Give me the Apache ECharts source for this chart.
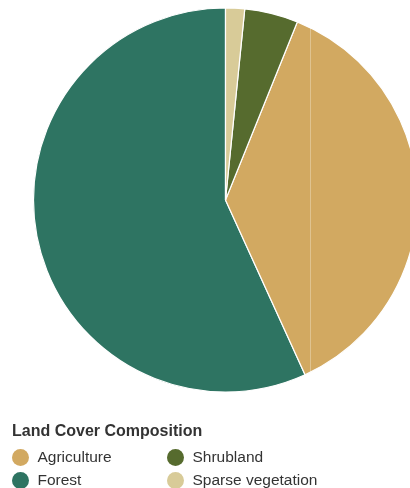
<!DOCTYPE html>
<html>
<head>
<meta charset="utf-8">
<style>
html,body{margin:0;padding:0;background:#fff;}
#chart{width:410px;height:488px;}
</style>
<script src="https://cdn.jsdelivr.net/npm/echarts@6/dist/echarts.min.js"></script>
</head>
<body>
<div id="chart"></div>
<script>
// Data (percent share of land cover)
const categories = ['Agriculture', 'Forest', 'Shrubland', 'Sparse vegetation'];
const values = [37.1, 56.8, 4.5, 1.6];
const colors = ['#D2A961', '#2E7462', '#566B2E', '#D8CB98'];
// drawing order (counter-clockwise from 12 o'clock)
const drawOrder = ['Forest', 'Agriculture', 'Shrubland', 'Sparse vegetation'];

const colorOf = {};
categories.forEach((c, i) => colorOf[c] = colors[i]);
const pieData = drawOrder.map(name => ({
  name: name,
  value: values[categories.indexOf(name)],
  itemStyle: { color: colorOf[name] }
}));

const chart = echarts.init(document.getElementById('chart'), null, { renderer: 'canvas' });
const font = 'Liberation Sans, Arial, sans-serif';
function makeLegend(left, names) {
  return {
    type: 'plain',
    orient: 'vertical',
    left: left,
    top: 448.5,
    width: 220,
    height: 100,
    icon: 'circle',
    itemWidth: 18,
    itemHeight: 17,
    itemGap: 5,
    itemStyle: { borderWidth: 0 },
    selectedMode: false,
    padding: 0,
    textStyle: { fontSize: 15.5, color: '#333', fontFamily: font, lineHeight: 18, padding: [0, 0, 0, 3] },
    data: names
  };
}
chart.setOption({
  animation: false,
  color: colors,
  title: {
    text: 'Land Cover Composition',
    left: 12,
    top: 424,
    padding: 0,
    textStyle: { fontSize: 16, fontWeight: 'bold', color: '#333', fontFamily: font }
  },
  legend: [
    makeLegend(12, [categories[0], categories[1]]),
    makeLegend(167, [categories[2], categories[3]])
  ],
  series: [{
    type: 'pie',
    center: [225.5, 200],
    radius: 192,
    startAngle: 90,
    clockwise: false,
    label: { show: false },
    labelLine: { show: false },
    emphasis: { disabled: true },
    itemStyle: { borderColor: '#ffffff', borderWidth: 1.2 },
    data: pieData
  }],
  graphic: [{
    type: 'line',
    silent: true,
    z: 100,
    shape: { x1: 310.5, y1: 28, x2: 310.5, y2: 372 },
    style: { stroke: 'rgba(255,255,255,0.3)', lineWidth: 1 }
  }]
});
</script>
</body>
</html>
